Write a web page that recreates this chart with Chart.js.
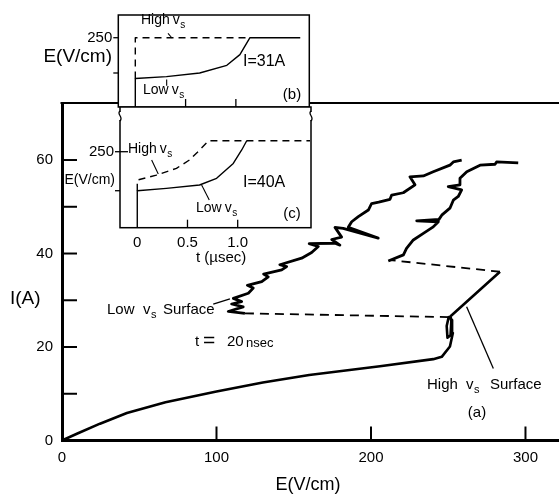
<!DOCTYPE html>
<html><head><meta charset="utf-8">
<script src="https://cdn.jsdelivr.net/npm/chart.js@4.4.1/dist/chart.umd.min.js"></script>
<style>
html,body{margin:0;padding:0;background:#fff;}
#wrap{position:relative;width:559px;height:502px;overflow:hidden;}
canvas{position:absolute;left:0;top:0;}
</style></head><body>
<div id="wrap">
<canvas id="main" width="559" height="502"></canvas>
<canvas id="insetB" width="559" height="502"></canvas>
<canvas id="insetC" width="559" height="502"></canvas>
</div>
<script>
// ---------- Main panel (a): I (A) versus E (V/cm) at t = 20 nsec ----------
const xTicksMain = [0, 100, 200, 300];
const yTicksMain = [0, 10, 20, 30, 40, 50, 60];
const yLabelsMain = [0, 20, 40, 60];

// solid trajectory from origin up to the high-vs surface
const curveE = [0, 10, 24.6, 42, 67, 100, 130, 160, 205.8, 240.3, 245.8, 251.1, 253, 252.5, 250.3, 249, 249.5, 251.5, 252, 251.5, 283.5];
const curveI = [0, 1.5, 3.6, 5.9, 8.2, 10.5, 12.4, 14.0, 15.9, 17.4, 17.9, 20.1, 23, 25.8, 26.4, 24.5, 22, 22.5, 25.5, 26.6, 36.1];

// dashed jumps
const lowDashE = [118.4, 250];
const lowDashI = [27.2, 26.4];
const highDashE = [283.5, 212.3];
const highDashI = [36.1, 38.6];

// jagged low-vs surface
const lowSurfE = [118.4, 107.6, 117.3, 109.8, 116.3, 110.9, 120.6, 123.8, 120.0, 129.3, 133.5, 130.5, 142.2, 145.4, 141.0, 155.1, 161.6, 165.9, 160.0, 176.7, 179.9, 174.6, 181.0, 176.7, 182.0, 204.7, 185.3, 187.5, 191.8, 198.3, 200.4, 205.0, 212.3, 213.4, 220.9, 228.5, 225.2, 233.9, 240.3, 251.1, 253.3, 258.7];
const lowSurfI = [27.2, 27.6, 28.6, 29.2, 29.7, 30.4, 31.5, 32.6, 33.2, 34.0, 35.0, 35.6, 36.5, 37.2, 37.6, 39.0, 40.2, 41.5, 42.1, 42.2, 41.8, 43.0, 43.5, 45.6, 45.4, 43.3, 45.6, 46.8, 47.9, 49.3, 50.7, 51.0, 51.6, 52.5, 53.0, 54.7, 56.4, 56.6, 57.5, 58.9, 59.6, 60.0];

// jagged high-vs surface
const highSurfE = [211.2, 221, 223, 227.4, 233.9, 240.3, 243.6, 229.6, 244, 245.8, 251.1, 253.3, 256.5, 258.7, 250, 257.6, 257.6, 262, 270.6, 280.3, 281.3, 295.3];
const highSurfI = [38.4, 39.7, 41.1, 42.9, 44.3, 45.7, 46.8, 47.0, 47.3, 48.2, 49.7, 51.4, 52.2, 53.6, 54.3, 54.7, 56.1, 57.5, 58.9, 59.1, 59.6, 59.4];

// ---------- Inset (b): I = 31 A ----------
const tTicksInset = [0, 0.5, 1.0];
const eTicksInset = [200, 250];
const bLowT = [0, 0, 0.31, 0.64, 0.91, 1.04, 1.14, 1.64];
const bLowE = [140, 192.2, 194.8, 200, 210.9, 226, 250, 250];
const bHighT = [0, 0, 1.14];
const bHighE = [192.2, 250, 250];

// ---------- Inset (c): I = 40 A ----------
const cLowT = [0, 0, 0.29, 0.62, 0.79, 0.956, 1.04, 1.09];
const cLowE = [140, 200, 203, 207.3, 215.9, 235, 252.2, 264];
const cHighT = [0, 0, 0.19, 0.39, 0.52, 0.62, 0.71, 1.72];
const cHighE = [200, 213.7, 220, 228.7, 239.4, 252, 264, 264];

// ---------------------------------------------------------------
const FF = '"Liberation Sans", Arial, sans-serif';
const pts = (xs, ys) => xs.map((v, i) => ({x: v, y: ys[i]}));
const ln = (data, w, dash) => ({data, showLine: true, borderColor: '#000', borderWidth: w, borderDash: dash || [], pointRadius: 0, tension: 0, fill: false, borderJoinStyle: 'round', borderCapStyle: 'butt'});

function txt(ctx, s, x, y, size, align) {
  ctx.font = size + 'px ' + FF;
  ctx.textAlign = align || 'left';
  ctx.textBaseline = 'middle';
  ctx.fillStyle = '#000';
  ctx.fillText(s, x, y);
  return ctx.measureText(s).width;
}
function vsub(ctx, x, y, size) {
  const w = txt(ctx, 'v', x, y, size);
  txt(ctx, 's', x + w + 0.5, y + size * 0.35, Math.round(size * 0.7));
}
function wordVs(ctx, word, x, y, size, gap) {
  const w = txt(ctx, word, x, y, size);
  vsub(ctx, x + w + gap, y, size);
}
function seg(ctx, x1, y1, x2, y2, w) {
  ctx.lineWidth = w; ctx.strokeStyle = '#000'; ctx.setLineDash([]);
  ctx.beginPath(); ctx.moveTo(x1, y1); ctx.lineTo(x2, y2); ctx.stroke();
}

const mainDecor = {
  id: 'mainDecor',
  afterDraw(chart) {
    const {ctx, chartArea: a, scales: {x, y}} = chart;
    ctx.save();
    seg(ctx, a.left - 1.5, a.top, a.right, a.top, 2);
    x.ticks.forEach(t => { if (t.value === 0) return; const p = x.getPixelForValue(t.value); seg(ctx, p, a.bottom, p, a.bottom - 14, 2); });
    y.ticks.forEach(t => { if (t.value === 0) return; const p = y.getPixelForValue(t.value); seg(ctx, a.left, p, a.left + 15, p, 2); });
    // leader lines (data coordinates)
    seg(ctx, x.getPixelForValue(97.9), y.getPixelForValue(29.2), x.getPixelForValue(108.7), y.getPixelForValue(30.3), 1.3);
    seg(ctx, x.getPixelForValue(279.2), y.getPixelForValue(15.4), x.getPixelForValue(261.9), y.getPixelForValue(28.6), 1.3);
    // texts
    txt(ctx, 'I(A)', 10, 299, 19);
    txt(ctx, 'E(V/cm)', 308, 485, 18, 'center');
    txt(ctx, 'Low', 107, 310, 15); vsub(ctx, 143, 310, 15); txt(ctx, 'Surface', 163, 310, 15);
    txt(ctx, 't', 195, 342, 15); txt(ctx, '=', 203, 341, 21); txt(ctx, '20', 227, 342, 15); txt(ctx, 'nsec', 246, 343, 13);
    txt(ctx, 'High', 427, 385, 15); vsub(ctx, 466, 385, 15); txt(ctx, 'Surface', 490, 385, 15);
    txt(ctx, '(a)', 477, 413, 15, 'center');
    ctx.restore();
  }
};

function insetDecor(which) {
  return {
    id: 'insetDecor' + which,
    beforeDraw(chart) {
      const {ctx, chartArea: a} = chart;
      ctx.save(); ctx.fillStyle = '#fff'; ctx.fillRect(a.left, a.top, a.right - a.left, a.bottom - a.top); ctx.restore();
    },
    afterDraw(chart) {
      const {ctx, chartArea: a, scales: {x, y}} = chart;
      ctx.save();
      ctx.lineWidth = 1.5; ctx.strokeStyle = '#000'; ctx.setLineDash([]);
      ctx.strokeRect(a.left, a.top, a.right - a.left, a.bottom - a.top);
      x.ticks.forEach(t => { if (t.value === 0) return; const p = x.getPixelForValue(t.value); seg(ctx, p, a.bottom, p, a.bottom - 8, 1.3); });
      y.ticks.forEach(t => { const p = y.getPixelForValue(t.value); const inner = (which === 'c' && t.value === 250) ? 8 : 0; seg(ctx, a.left - 5, p, a.left + inner, p, 1.3); });
      if (which === 'b') {
        txt(ctx, 'E(V/cm)', 112, 57, 19, 'right');
        wordVs(ctx, 'High', 141, 20, 14, 3);
        seg(ctx, x.getPixelForValue(0.325), y.getPixelForValue(256.1), x.getPixelForValue(0.365), y.getPixelForValue(249.6), 1.1);
        wordVs(ctx, 'Low', 143, 90, 14, 3);
        seg(ctx, x.getPixelForValue(0.312), y.getPixelForValue(190.9), x.getPixelForValue(0.312), y.getPixelForValue(181.8), 1.1);
        txt(ctx, 'I=31A', 243, 62, 16);
        txt(ctx, '(b)', 292, 95, 15, 'center');
      } else {
        // break marks on the side spines
        [a.left, a.right].forEach(bx => {
          ctx.fillStyle = '#fff'; ctx.fillRect(bx - 2, a.top + 5, 4, 8);
          ctx.lineWidth = 1.3; ctx.beginPath();
          ctx.moveTo(bx, a.top + 4); ctx.bezierCurveTo(bx - 4, a.top + 7, bx + 4, a.top + 10, bx, a.top + 14); ctx.stroke();
        });
        txt(ctx, 'E(V/cm)', 115, 180, 14, 'right');
        wordVs(ctx, 'High', 128, 149, 14, 3);
        seg(ctx, x.getPixelForValue(0.143), y.getPixelForValue(239.4), x.getPixelForValue(0.209), y.getPixelForValue(221.4), 1.1);
        wordVs(ctx, 'Low', 196, 208, 14, 3);
        seg(ctx, x.getPixelForValue(0.717), y.getPixelForValue(188.1), x.getPixelForValue(0.641), y.getPixelForValue(207.3), 1.1);
        txt(ctx, 'I=40A', 243, 183, 16);
        txt(ctx, '(c)', 292, 214, 15, 'center');
        txt(ctx, 't (\u00b5sec)', 196, 258, 15);
      }
      ctx.restore();
    }
  };
}

Chart.defaults.font.family = FF;
Chart.defaults.color = '#000';

new Chart(document.getElementById('main'), {
  type: 'scatter',
  data: {datasets: [
    ln(pts(curveE, curveI), 2.6),
    ln(pts(lowDashE, lowDashI), 1.8, [9, 6]),
    ln(pts(highDashE, highDashI), 1.8, [9, 6]),
    ln(pts(lowSurfE, lowSurfI), 2.8),
    ln(pts(highSurfE, highSurfI), 2.8)
  ]},
  options: {
    responsive: false, animation: false, events: [],
    layout: {padding: {left: 0, right: 0, top: 103, bottom: 0}},
    plugins: {legend: {display: false}, tooltip: {enabled: false}},
    scales: {
      x: {type: 'linear', min: 0, max: 321.7,
          afterBuildTicks: s => { s.ticks = xTicksMain.map(v => ({value: v})); },
          afterFit: s => { s.height = 61.5; },
          grid: {display: false, drawTicks: false}, border: {display: true, width: 3, color: '#000'},
          ticks: {autoSkip: false, maxRotation: 0, padding: 8, font: {size: 15}, color: '#000', callback: v => String(v)}},
      y: {type: 'linear', min: 0, max: 72.2,
          afterBuildTicks: s => { s.ticks = yTicksMain.map(v => ({value: v})); },
          afterFit: s => { s.width = 62; },
          grid: {display: false, drawTicks: false}, border: {display: true, width: 3, color: '#000'},
          ticks: {autoSkip: false, padding: 9, font: {size: 15}, color: '#000', callback: v => yLabelsMain.includes(v) ? String(v) : ''}}
    }
  },
  plugins: [mainDecor]
});

function insetChart(id, which, lowT, lowE, highT, highE, area, xr, yr, showX) {
  return new Chart(document.getElementById(id), {
    type: 'scatter',
    data: {datasets: [
      ln(pts(lowT, lowE), 1.4),
      ln(pts(highT, highE), 1.4, [7, 5])
    ]},
    options: {
      responsive: false, animation: false, events: [],
      layout: {padding: {left: 0, right: 559 - area.right, top: area.top, bottom: 0}},
      plugins: {legend: {display: false}, tooltip: {enabled: false}},
      scales: {
        x: {type: 'linear', min: xr[0], max: xr[1],
            afterBuildTicks: s => { s.ticks = tTicksInset.map(v => ({value: v})); },
            afterFit: s => { s.height = 502 - area.bottom; },
            grid: {display: false, drawTicks: false}, border: {display: false},
            ticks: {display: showX, autoSkip: false, maxRotation: 0, padding: 6, font: {size: 15}, color: '#000',
                    callback: v => v === 0 ? '0' : v.toFixed(1)}},
        y: {type: 'linear', min: yr[0], max: yr[1],
            afterBuildTicks: s => { s.ticks = eTicksInset.map(v => ({value: v})); },
            afterFit: s => { s.width = area.left; },
            grid: {display: false, drawTicks: false}, border: {display: false},
            ticks: {autoSkip: false, padding: 6, font: {size: 15}, color: '#000', callback: v => v === 250 ? '250' : ''}}
      }
    },
    plugins: [insetDecor(which)]
  });
}

insetChart('insetB', 'b', bLowT, bLowE, bHighT, bHighE, {left: 118.3, right: 309.3, top: 7, bottom: 107}, [-0.169, 1.730], [151.8, 282.2], false);
insetChart('insetC', 'c', cLowT, cLowE, cHighT, cHighE, {left: 120, right: 311, top: 107, bottom: 227.7}, [-0.172, 1.730], [152.6, 307.3], true);
</script>
</body></html>
